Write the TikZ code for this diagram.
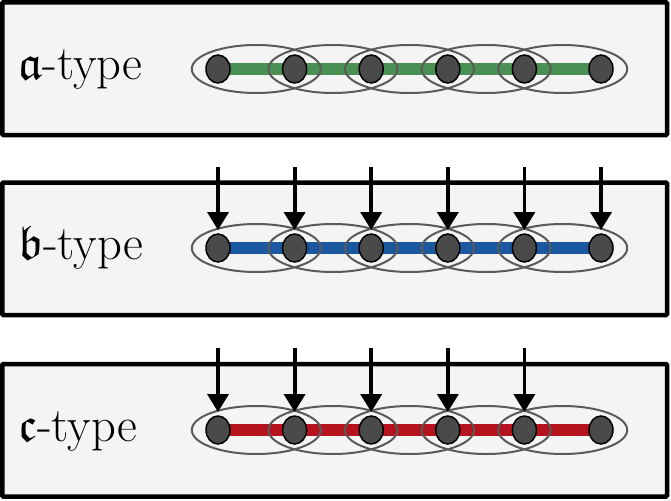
\documentclass[tikz,border=0pt]{standalone}
\usepackage{amssymb}
\usetikzlibrary{shapes.geometric,arrows.meta,calc}
\definecolor{panelbg}{HTML}{F4F4F4}
\definecolor{nodegray}{HTML}{4A4A4A}
\definecolor{ringgray}{HTML}{5A5A5A}
\definecolor{lgreen}{HTML}{4A9055}
\definecolor{lblue}{HTML}{1A58A0}
\definecolor{lred}{HTML}{B5141E}
\tikzset{
  panel/.style={draw=black, line width=4.5pt, fill=panelbg, rounded corners=1pt},
  site/.style={ellipse, draw=black, line width=1.5pt, fill=nodegray, minimum width=24pt, minimum height=28pt, inner sep=0pt},
  ring/.style={ellipse, draw=ringgray, line width=2pt, minimum width=129pt, minimum height=48pt, inner sep=0pt},
  chain/.style={line width=12pt},
  label/.style={anchor=base west, inner sep=0pt, font=\fontsize{48.5}{52}\selectfont},
  pump/.style={line width=3.8pt, -{Triangle[width=21pt,length=18pt]}}
}
\begin{document}
\begin{tikzpicture}[x=1pt,y=-1pt]
\useasboundingbox (0,0) rectangle (671,500);
% panels
\draw[panel] (2.3,2.3) rectangle (667,135);
\draw[panel] (2.3,182.5) rectangle (667,315);
\draw[panel] (2.3,364) rectangle (667,496.5);
% rows
\foreach \r/\yc/\col/\lett in {a/69/lgreen/a, b/248/lblue/b, c/430/lred/c}{
  \node[label] (\r lab) at (18,\yc+11) {$\mathfrak{\lett}$-type};
  \foreach \i/\xx in {1/218,2/294.6,3/371.2,4/447.8,5/524.4,6/601}{
    \coordinate (\r p\i) at (\xx,\yc);
  }
  \draw[\col, chain] (\r p1) -- (\r p6);
  \foreach \i/\j in {1/2,2/3,3/4,4/5,5/6}{
    \node[ring] (\r ring\i) at ($(\r p\i)!0.5!(\r p\j)$) {};
  }
  \foreach \i in {1,...,6}{
    \node[site] (\r s\i) at (\r p\i) {};
  }
}
% arrows for b-type (all six sites)
\foreach \i in {1,...,6}{
  \coordinate (bst\i) at ($(bp\i)+(0,-81)$);
  \coordinate (bend\i) at ($(bp\i)+(0,-18)$);
  \draw[pump] (bst\i) -- (bend\i);
}
% arrows for c-type (first five sites)
\foreach \i in {1,...,5}{
  \coordinate (cst\i) at ($(cp\i)+(0,-82)$);
  \coordinate (cend\i) at ($(cp\i)+(0,-18)$);
  \draw[pump] (cst\i) -- (cend\i);
}
\end{tikzpicture}
\end{document}
